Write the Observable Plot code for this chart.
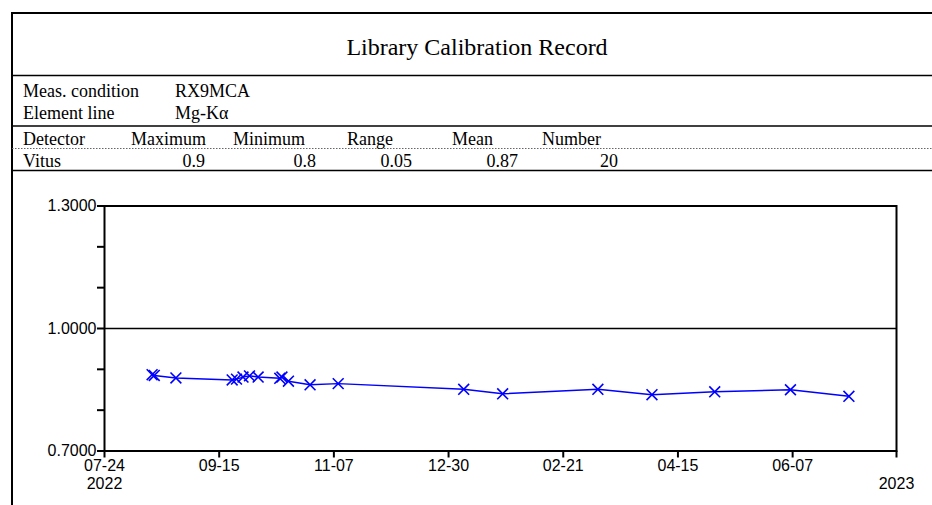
<!DOCTYPE html>
<html>
<head>
<meta charset="utf-8">
<script src="https://cdn.jsdelivr.net/npm/d3@7"></script>
<script src="https://cdn.jsdelivr.net/npm/@observablehq/plot@0.6"></script>
<style>
  html, body { margin: 0; padding: 0; background: #fff; overflow: hidden; }
  #page { position: relative; width: 932px; height: 505px; overflow: hidden; }
  #frame { position: absolute; left: 11px; top: 12px; width: 1000px; height: 600px;
           border-left: 2px solid #000; border-top: 2px solid #000; }
  #header { position: absolute; left: 0; top: 0; }
  #chart { position: absolute; left: 0; top: 185px; }
</style>
</head>
<body>
<div id="page">
  <div id="frame"></div>
  <svg id="header" width="932" height="185"></svg>
  <div id="chart"></div>
</div>
<script>
// ---- data ----
const title = "Library Calibration Record";
const conditionLabels = ["Meas. condition", "Element line"];
const conditionValues = ["RX9MCA", "Mg-Kα"];
const statHeaders = ["Detector", "Maximum", "Minimum", "Range", "Mean", "Number"];
const statValues = ["Vitus", "0.9", "0.8", "0.05", "0.87", "20"];

const dates = ["2022-08-15","2022-08-16","2022-08-26","2022-09-21","2022-09-23","2022-09-26",
  "2022-09-29","2022-10-03","2022-10-13","2022-10-14","2022-10-17","2022-10-27","2022-11-09",
  "2023-01-06","2023-01-24","2023-03-09","2023-04-03","2023-05-02","2023-06-06","2023-07-03"];
const values = [0.887,0.885,0.879,0.874,0.876,0.881,0.884,0.881,0.878,0.881,0.871,0.862,0.865,
  0.851,0.840,0.851,0.838,0.845,0.850,0.834];

const xDomain = ["2022-07-24", "2023-07-25"];
const xTicks = ["2022-07-24","2022-09-15","2022-11-07","2022-12-30","2023-02-21","2023-04-15","2023-06-07","2023-07-25"];
const yearLabels = ["2022", "2023"];
const yDomain = [0.7, 1.3];
const yTicks = [0.7, 0.8, 0.9, 1.0, 1.1, 1.2, 1.3];
const yLabelTicks = [0.7, 1.0, 1.3];
const refLine = [1.0];

// ---- header (layout) ----
const hdr = d3.select("#header");
const serif = "'Liberation Serif', 'Times New Roman', serif";
function hline(y, dashed) {
  hdr.append("line").attr("x1", 12).attr("x2", 932).attr("y1", y).attr("y2", y)
    .attr("stroke", dashed ? "#666" : "#000").attr("stroke-width", dashed ? 1 : 1.6)
    .attr("stroke-dasharray", dashed ? "1.5,1.5" : null);
}
hline(75.5); hline(126); hline(148.5, true); hline(170.5);
function txt(x, y, s, size, anchor) {
  hdr.append("text").attr("x", x).attr("y", y).attr("text-anchor", anchor || "start")
    .attr("font-family", serif).attr("font-size", size).attr("fill", "#000").text(s);
}
txt(477, 55, title, 24, "middle");
const condX = [23, 175], condY = [97, 119];
conditionLabels.forEach((s, i) => txt(condX[0], condY[i], s, 18));
conditionValues.forEach((s, i) => txt(condX[1], condY[i], s, 18));
const headX = [23, 131, 233, 347, 452, 542];
statHeaders.forEach((s, i) => txt(headX[i], 145, s, 18));
const valX = [23, 205, 316, 412, 518, 618];
statValues.forEach((s, i) => txt(valX[i], 167, s, 18, i === 0 ? "start" : "end"));

// ---- chart ----
const parse = d3.utcParse("%Y-%m-%d");
const data = dates.map((d, i) => ({date: parse(d), value: values[i]}));
const ticks = xTicks.map(parse);
const endDate = parse(xDomain[1]);
const years = [{date: parse(xDomain[0]), label: yearLabels[0]}, {date: endDate, label: yearLabels[1]}];

const chart = Plot.plot({
  width: 932,
  height: 320,
  marginLeft: 104,
  marginRight: 36,
  marginTop: 20.5,
  marginBottom: 54.5,
  style: {fontFamily: "'Liberation Sans', Arial, sans-serif", fontSize: "16px", color: "#000", background: "transparent"},
  x: {type: "utc", domain: xDomain.map(parse)},
  y: {domain: yDomain},
  marks: [
    Plot.ruleY(refLine, {stroke: "#000", strokeWidth: 1.6}),
    Plot.frame({stroke: "#000", strokeWidth: 2}),
    Plot.axisX({ticks: ticks, tickSize: 7, tickPadding: 2, strokeWidth: 2, label: null,
      tickFormat: d => +d === +endDate ? "" : d3.utcFormat("%m-%d")(d)}),
    Plot.text(years, {x: "date", text: "label", frameAnchor: "bottom", dy: 27, lineAnchor: "top", fontSize: 16}),
    Plot.axisY({ticks: yTicks, tickSize: 7, tickPadding: 1, strokeWidth: 2, label: null,
      tickFormat: d => yLabelTicks.some(t => Math.abs(t - d) < 1e-9) ? d.toFixed(4) : ""}),
    Plot.line(data, {x: "date", y: "value", stroke: "#0000ff", strokeWidth: 1.5}),
    Plot.dot(data, {x: "date", y: "value", symbol: "times", r: 5, stroke: "#0000ff", strokeWidth: 1.6})
  ]
});
document.getElementById("chart").appendChild(chart);
</script>
</body>
</html>
